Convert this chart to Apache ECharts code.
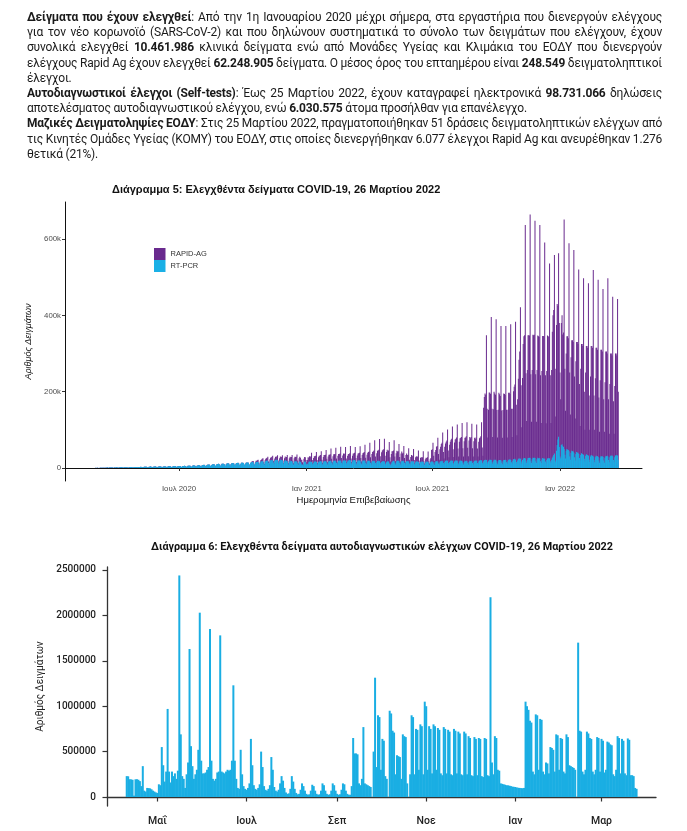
<!DOCTYPE html>
<html><head><meta charset="utf-8">
<script src="https://cdn.jsdelivr.net/npm/echarts@6/dist/echarts.min.js"></script>
<style>
html,body{margin:0;padding:0;background:#fff;width:687px;height:831px;overflow:hidden}
#chart{position:absolute;left:0;top:0;width:687px;height:831px}
#txt{position:absolute;left:27px;top:10px;width:635px;font-family:Roboto,"Noto Sans",sans-serif;font-size:12px;letter-spacing:-0.2px;line-height:15.2px;color:#1a1a1a;z-index:2}
#txt div{white-space:nowrap;height:15.2px}
#txt span{display:inline-block;transform-origin:0 50%;white-space:nowrap}
</style></head>
<body>
<div id="chart"></div>
<div id="txt">
<div class="j"><span><b>Δείγματα που έχουν ελεγχθεί</b>: Από την 1η Ιανουαρίου 2020 μέχρι σήμερα, στα εργαστήρια που διενεργούν ελέγχους</span></div>
<div class="j"><span>για τον νέο κορωνοϊό (SARS-CoV-2) και που δηλώνουν συστηματικά το σύνολο των δειγμάτων που ελέγχουν, έχουν</span></div>
<div class="j"><span>συνολικά ελεγχθεί <b>10.461.986</b> κλινικά δείγματα ενώ από Μονάδες Υγείας και Κλιμάκια του ΕΟΔΥ που διενεργούν</span></div>
<div class="j"><span>ελέγχους Rapid Ag έχουν ελεγχθεί <b>62.248.905</b> δείγματα. Ο μέσος όρος του επταημέρου είναι <b>248.549</b> δειγματοληπτικοί</span></div>
<div><span>έλεγχοι.</span></div>
<div class="j"><span><b>Αυτοδιαγνωστικοί έλεγχοι (Self-tests)</b>: Έως 25 Μαρτίου 2022, έχουν καταγραφεί ηλεκτρονικά <b>98.731.066</b> δηλώσεις</span></div>
<div><span>αποτελέσματος αυτοδιαγνωστικού ελέγχου, ενώ <b>6.030.575</b> άτομα προσήλθαν για επανέλεγχο.</span></div>
<div class="j"><span><b>Μαζικές Δειγματοληψίες ΕΟΔΥ</b>: Στις 25 Μαρτίου 2022, πραγματοποιήθηκαν 51 δράσεις δειγματοληπτικών ελέγχων από</span></div>
<div class="j"><span>τις Κινητές Ομάδες Υγείας (ΚΟΜΥ) του ΕΟΔΥ, στις οποίες διενεργήθηκαν 6.077 έλεγχοι Rapid Ag και ανευρέθηκαν 1.276</span></div>
<div><span>θετικά (21%).</span></div>
</div>
<script>
// ---------- Chart 5 data (daily, thousands) ----------
const pcrStart = Date.UTC(2020,1,26);   // RT-PCR from 26 Feb 2020
const rapidStart = Date.UTC(2020,9,14); // RAPID-AG from 14 Oct 2020
const pcr2020 = [
0.1,0.2,0.2,0.1,0.1,0.3,0.4,
0.3,0.4,0.5,0.3,0.2,0.5,0.6,
0.6,0.8,0.9,0.6,0.4,0.8,1.0,
1.0,1.2,1.3,0.9,0.6,1.1,1.3,
1.3,1.5,1.4,1.0,0.7,1.3,1.6,
1.6,1.8,1.6,1.1,0.8,1.5,1.8,
1.9,2.0,1.8,1.2,0.9,1.7,2.0,
2.1,2.2,2.0,1.4,0.9,1.9,2.3,
2.4,2.5,2.3,1.6,1.1,2.2,2.6,
2.7,2.6,2.8,1.8,1.2,2.5,2.9,
3.0,3.1,2.9,2.0,1.4,2.7,3.2,
3.3,3.4,3.2,2.2,1.5,2.9,3.4,
3.5,3.7,3.4,2.4,1.7,3.1,3.6,
3.7,3.8,3.5,2.5,1.8,3.3,3.9,
3.9,4.1,3.8,2.7,1.9,3.5,4.2,
4.1,4.3,3.9,2.8,2.0,3.7,4.4,
4.4,4.5,4.2,3.0,2.2,3.9,4.6,
4.7,4.9,4.5,3.2,2.3,4.2,5.0,
5.1,5.3,4.9,3.5,2.5,4.5,5.4,
5.5,5.7,5.3,3.8,2.7,4.9,5.9,
5.9,6.2,5.7,4.1,2.9,5.3,6.4,
6.4,6.7,6.2,4.4,3.2,5.7,6.9,
7.1,7.4,6.9,4.9,3.5,6.3,7.7,
7.9,8.3,7.7,5.5,3.9,7.0,8.5,
8.9,9.3,8.6,6.1,4.4,7.9,9.5,
9.7,10.1,9.4,6.7,4.8,8.6,10.3,
10.4,10.9,10.1,7.2,5.2,9.2,11.1,
10.9,11.4,10.6,7.5,5.4,9.7,11.7,
11.7,12.2,11.3,8.1,5.8,10.3,12.4,
12.4,12.9,12.0,8.5,6.1,10.9,13.1,
12.9,13.5,12.5,8.9,6.4,11.4,13.7,
13.5,14.1,13.1,9.3,6.7,11.9,14.3,
14.1,14.7,13.7,9.8,7.0,12.5,14.9,
14.9,15.5,14.5,10.3,7.4,13.2,15.8,
15.9,16.6,15.5,11.0,7.9,14.1,16.9,
17.4,18.2,16.9,12.1,8.7,15.4,18.5,
18.9,19.7,18.4,13.1,9.4,16.7,20.1,
20.4,21.3,19.9,14.2,10.2,18.1,21.7,
20.9,21.9,20.4,14.6,10.5,18.5,22.1,
19.9,20.7,19.4,13.8,9.9,17.6,20.9,
18.4,19.2,17.9,12.8,9.2,16.3,19.4,
17.4,18.1,16.9,12.1,8.7,15.4,18.3,
16.9,17.6,16.4,11.7,8.4,14.9,17.8,
15.9,12.0,8.0,9.0,7.0,14.0,16.9,
16.4,12.0
];
const pcr2021 = [
9,11,8,15,17,
16,17,16,12,8,14,17,
17,17,16,12,8,15,17,
17,18,17,12,9,15,18,
18,18,17,13,9,15,18,
18,19,18,13,9,16,19,
19,19,18,13,9,16,19,
19,20,19,14,10,17,20,
20,20,19,14,10,17,20,
20,21,20,14,10,17,21,
20,21,19,14,10,17,20,
20,20,19,14,10,17,20,
19,20,19,13,10,16,19,
19,19,18,13,9,16,19,
18,19,18,13,9,16,19,
18,19,18,13,9,16,18,
18,18,17,12,9,15,18,
17,17,12,10,7,12,16,
18,19,18,13,9,16,19,
19,19,18,13,9,16,19,
18,19,18,13,9,16,18,
18,18,17,12,9,15,18,
17,18,17,12,8,15,17,
17,17,16,12,8,15,17,
16,17,16,11,8,14,17,
16,17,16,11,8,14,16,
17,17,16,12,8,15,17,
18,18,17,12,9,15,18,
18,19,18,13,9,16,19,
19,20,19,13,10,16,19,
19,20,19,13,10,17,20,
19,20,19,13,10,17,20,
19,19,18,13,9,16,19,
18,19,18,13,9,16,19,
18,19,18,13,9,16,19,
19,20,19,13,10,17,20,
20,21,20,14,10,18,21,
21,22,21,15,11,18,22,
21,22,21,15,11,18,22,
21,22,20,14,10,18,21,
21,21,20,14,10,18,21,
21,22,21,15,11,18,22,
22,23,21,15,11,19,23,
23,24,22,16,11,20,24,
24,25,24,17,12,21,25,
25,26,25,18,13,22,26,
26,27,26,18,13,23,27,
26,27,26,18,13,23,27,
25,26,25,18,13,22,26,
24,25,24,17,12,21,25,
25,26,25,18,13,22,27,
30,34,38,20,15,45,60,
75,82,55
];
const pcr2022 = [
30,25,60,62,
58,55,50,35,25,45,50,
48,47,44,30,22,40,45,
44,43,40,28,20,37,42,
40,40,37,26,19,34,39,
37,37,34,24,17,32,36,
34,34,32,22,16,30,34,
32,32,30,21,15,28,32,
31,31,29,20,14,27,31,
30,31,29,20,14,27,31,
31,32,30,21,15,28,32,
32,33,31,21,15,28,33,
33,34,32,22
];
const rapid2020 = [
2,2,4,1,1,2,3,
3,4,6,2,1,3,4,
5,6,9,3,2,5,6,
7,7,11,4,2,6,7,
8,8,12,5,3,7,8,
8,9,13,5,3,7,8,
9,9,14,6,3,8,9,
10,10,16,6,3,9,10,
11,11,17,7,4,10,11,
12,12,19,8,4,11,12,
11,10,14,6,3,10,12,
12,9
];
const rapid2021 = [
6,10,20,12,14,
13,14,24,9,5,12,14,
14,15,26,9,5,13,15,
15,16,27,10,5,14,16,
16,17,30,11,6,15,17,
17,17,33,11,6,15,17,
17,18,35,12,6,16,18,
18,18,37,12,6,16,18,
17,18,36,11,6,15,17,
17,18,38,11,6,15,17,
18,19,36,12,6,16,18,
19,20,38,12,7,17,19,
21,22,42,14,7,19,21,
23,24,48,15,8,21,23,
26,27,55,17,9,23,26,
28,29,58,18,10,25,28,
30,31,60,20,10,27,30,
28,29,56,18,10,25,28,
26,27,55,17,9,23,26,
24,25,45,16,8,22,24,
20,21,40,13,7,18,20,
16,17,35,10,6,14,16,
14,15,33,9,5,13,14,
12,13,30,8,4,11,12,
10,11,28,7,4,9,10,
10,11,27,7,4,9,10,
30,32,50,20,11,27,30,
38,40,62,25,13,34,38,
45,47,75,29,16,40,45,
50,52,82,33,18,45,50,
55,57,90,36,19,50,55,
58,60,95,38,20,52,58,
60,62,100,39,21,54,60,
62,64,102,40,22,56,62,
60,62,98,39,21,54,60,
58,60,95,38,20,52,58,
60,62,100,40,22,140,165,
174,170,327,140,69,135,176,
176,172,375,140,70,136,178,
174,170,370,138,70,135,176,
172,168,352,137,69,134,174,
173,169,351,138,69,135,175,
175,171,356,140,70,136,178,
190,195,361,150,75,160,210,
260,280,397,200,95,215,300,
320,322,612,230,110,235,322,
322,320,638,228,108,234,322,
322,322,622,228,108,234,320,
320,318,612,225,105,232,320,
322,320,567,226,105,233,322,
320,318,511,225,105,235,330,
370,380,520,240,120,330,370,
350,481,325
];
const rapid2022 = [
220,155,320,338,
292,300,601,225,125,255,295,
297,293,545,220,118,250,290,
291,287,531,212,110,243,288,
290,285,483,194,91,226,286,
288,283,463,176,83,218,284,
286,281,452,168,84,210,286,
288,283,489,169,85,207,283,
284,279,464,165,81,203,279,
280,274,440,160,81,198,274,
274,268,467,159,75,192,268,
268,262,418,154,75,187,267,
267,261,411,178
];
const ticks5x = [Date.UTC(2020,6,1), Date.UTC(2021,0,1), Date.UTC(2021,6,1), Date.UTC(2022,0,1)];
const labels5x = ['Ιουλ 2020','Ιαν 2021','Ιουλ 2021','Ιαν 2022'];
const ticks5y = [0,200000,400000,600000];
const labels5y = ['0','200k','400k','600k'];

// ---------- Chart 6 data (daily self-tests, thousands) ----------
const selfStart = Date.UTC(2021,3,10);
const selfTests2021 = [
230,228,196,194,190,15,195,196,190,175,
120,340,70,60,100,98,95,85,70,60,
50,45,140,130,550,350,170,280,970,280,
160,280,230,260,200,290,2440,690,230,200,
100,250,380,1630,560,340,200,250,300,520,
2030,400,260,260,270,300,330,1850,400,200,
180,200,270,280,1780,280,270,260,280,300,
290,300,400,1230,400,200,100,90,520,250,
120,90,80,100,150,640,350,130,90,80,
100,140,500,330,120,80,70,90,130,440,
300,110,70,60,80,150,230,180,100,50,
35,40,90,230,170,90,45,30,35,80,
150,120,70,35,25,30,70,135,120,70,
35,25,30,70,150,130,70,35,25,30,
70,150,130,70,35,25,30,80,150,140,
70,35,25,25,120,650,480,480,470,150,
130,200,770,150,140,130,120,110,0,500,
1314,330,900,880,300,640,620,230,200,0,
950,920,730,710,250,460,450,440,200,690,
670,660,150,0,250,900,880,250,750,740,
300,800,780,250,1050,1000,300,780,750,260,
800,780,300,760,740,260,240,770,750,260,
740,720,250,240,750,730,260,720,700,250,
240,720,700,250,670,650,240,230,660,640,
240,650,640,230,220,650,640,240,230,2200,
380,250,670,650,300,290,150,145,140,135,
130,128,125,120,115,112
];
const selfTests2022 = [
110,105,102,100,98,97,
100,1050,1000,960,840,820,280,250,910,900,
300,860,850,280,250,380,370,260,550,540,
520,280,690,680,300,650,640,280,260,690,
660,350,340,330,320,300,0,1700,730,720,
280,250,300,720,700,650,640,280,250,300,
660,650,280,640,620,270,300,610,600,580,
570,250,230,300,670,650,260,640,620,260,
240,645,630,240,240,230,100,90
];
const ticks6x = [Date.UTC(2021,4,1), Date.UTC(2021,6,1), Date.UTC(2021,8,1), Date.UTC(2021,10,1), Date.UTC(2022,0,1), Date.UTC(2022,2,1)];
const labels6x = ['Μαΐ','Ιουλ','Σεπ','Νοε','Ιαν','Μαρ'];
const ticks6y = [0,500000,1000000,1500000,2000000,2500000];

// ---------- fit the justified text lines ----------
(function(){
  const W = 635;
  document.querySelectorAll('#txt div').forEach(function(div){
    const sp = div.firstElementChild;
    const w = sp.getBoundingClientRect().width;
    if (div.classList.contains('j') && w < W) {
      const n = (sp.textContent.match(/ /g) || []).length;
      if (n) sp.style.wordSpacing = ((W - w) / n) + 'px';
    } else if (w > W) {
      sp.style.transform = 'scaleX(' + (W / w) + ')';
    }
  });
})();

// ---------- build tables ----------
const DAY = 86400000;
function daily(start, arrs){ const out=[]; let t=start; arrs.forEach(a=>a.forEach(v=>{out.push([t, v*1000]); t+=DAY;})); return out; }
const pcrData = daily(pcrStart, [pcr2020, pcr2021, pcr2022]);
const rapidData = daily(rapidStart, [rapid2020, rapid2021, rapid2022]);
const rapidMap = new Map(rapidData.map(d=>[d[0], d[1]]));
const totalData = pcrData.map(d=>[d[0], d[1] + (rapidMap.get(d[0])||0)]);
const selfData = daily(selfStart, [selfTests2021, selfTests2022]);

function lookup(ticks, labels){ return function(v){ let bi=0, bd=Infinity; ticks.forEach((t,i)=>{const d=Math.abs(t-v); if(d<bd){bd=d;bi=i;}}); return labels[bi]; }; }

// bar drawn through the axes' own scales (api.coord), fixed pixel width
function dayBar(width, color){
  return function(params, api){
    const t = api.value(0), v = api.value(1);
    const p0 = api.coord([t, 0]);
    const p1 = api.coord([t, v]);
    return {type:'rect', shape:{x:p0[0]-width/2, y:p1[1], width:width, height:p0[1]-p1[1]}, style:{fill:color}};
  };
}

const F5 = '"Liberation Sans", Arial, sans-serif';
const F6 = 'Roboto, "Noto Sans", sans-serif';
const PURPLE = '#692a8e', CYAN = '#1ab0e6', CYAN6 = '#1aaee3';

const chart = echarts.init(document.getElementById('chart'), null, {renderer:'canvas'});
chart.setOption({
  animation:false,
  backgroundColor:'transparent',
  textStyle:{fontFamily:F5},
  title:[
    {text:'Διάγραμμα 5: Ελεγχθέντα δείγματα COVID-19, 26 Μαρτίου 2022', left:112, top:184, padding:0,
     textStyle:{fontFamily:F5, fontSize:11, fontWeight:'bold', color:'#111'}},
    {text:'Διάγραμμα 6: Ελεγχθέντα δείγματα αυτοδιαγνωστικών ελέγχων COVID-19, 26 Μαρτίου 2022', left:382, top:542, padding:0, textAlign:'center',
     textStyle:{fontFamily:F6, fontSize:10.8, fontWeight:'bold', color:'#111'}}
  ],
  legend:{orient:'vertical', left:154, top:248, padding:0, itemGap:0, itemWidth:11.5, itemHeight:12, icon:'rect',
    data:['RAPID-AG','RT-PCR'], textStyle:{fontFamily:F5, fontSize:7.5, color:'#333'}},
  grid:[
    {left:65, right:45, top:202, bottom:350, outerBoundsMode:'none'},
    {left:107, right:31, top:567, bottom:25, outerBoundsMode:'none'}
  ],
  xAxis:[
    {type:'value', gridIndex:0, min:Date.UTC(2020,0,18,17), max:Date.UTC(2022,3,29,5),
     axisLine:{show:true, lineStyle:{color:'#111', width:1}},
     axisTick:{show:true, customValues:ticks5x, length:3, lineStyle:{color:'#333'}},
     axisLabel:{customValues:ticks5x, formatter:lookup(ticks5x, labels5x), fontFamily:F5, fontSize:7.8, color:'#4d4d4d', margin:4},
     splitLine:{show:false},
     name:'Ημερομηνία Επιβεβαίωσης', nameLocation:'middle', nameGap:14,
     nameTextStyle:{fontFamily:F5, fontSize:9.5, color:'#111'}},
    {type:'value', gridIndex:1, min:Date.UTC(2021,2,27,12), max:Date.UTC(2022,3,7,7),
     axisLine:{show:true, lineStyle:{color:'#333', width:1.3}},
     axisTick:{show:true, customValues:ticks6x, length:4.5, lineStyle:{color:'#333', width:1.2}},
     axisLabel:{customValues:ticks6x, formatter:lookup(ticks6x, labels6x), fontFamily:F6, fontSize:10.5, fontWeight:500, color:'#222', margin:10},
     splitLine:{show:false}}
  ],
  yAxis:[
    {type:'value', gridIndex:0, min:-34000, max:697000,
     axisLine:{show:true, lineStyle:{color:'#111', width:1}},
     axisTick:{show:true, customValues:ticks5y, length:3, lineStyle:{color:'#333'}},
     axisLabel:{customValues:ticks5y, formatter:lookup(ticks5y, labels5y), fontFamily:F5, fontSize:7.8, color:'#4d4d4d', margin:4},
     splitLine:{show:false},
     name:'Αριθμός Δειγμάτων', nameLocation:'middle', nameGap:25,
     nameTextStyle:{fontFamily:F5, fontSize:9, fontStyle:'italic', color:'#111'}},
    {type:'value', gridIndex:1, min:-99000, max:2533000,
     axisLine:{show:true, lineStyle:{color:'#333', width:1.3}},
     axisTick:{show:true, customValues:ticks6y, length:4.5, lineStyle:{color:'#333', width:1.2}},
     axisLabel:{customValues:ticks6y, formatter:function(v){return String(Math.round(v));}, fontFamily:F6, fontSize:10, fontWeight:500, color:'#222', margin:11},
     splitLine:{show:false},
     name:'Αριθμός Δειγμάτων', nameLocation:'middle', nameGap:58,
     nameTextStyle:{fontFamily:F6, fontSize:10, color:'#222'}}
  ],
  series:[
    {name:'RAPID-AG', type:'custom', xAxisIndex:0, yAxisIndex:0, data:totalData, encode:{x:0, y:1},
     renderItem:dayBar(1.0, PURPLE), itemStyle:{color:PURPLE}, silent:true, clip:true},
    {name:'RT-PCR', type:'custom', xAxisIndex:0, yAxisIndex:0, data:pcrData, encode:{x:0, y:1},
     renderItem:dayBar(1.0, CYAN), itemStyle:{color:CYAN}, silent:true, clip:true},
    {name:'Self-tests', type:'custom', xAxisIndex:1, yAxisIndex:1, data:selfData, encode:{x:0, y:1},
     renderItem:dayBar(2.0, CYAN6), itemStyle:{color:CYAN6}, silent:true, clip:true}
  ]
});
</script>
</body></html>
